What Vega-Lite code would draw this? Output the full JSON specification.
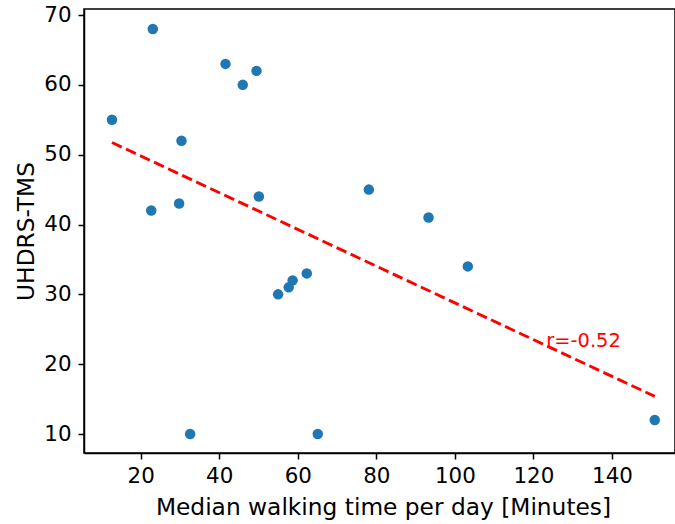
{
  "$schema": "https://vega.github.io/schema/vega-lite/v6.json",
  "autosize": "none",
  "width": 591,
  "height": 444,
  "padding": {"left": 84, "top": 9, "right": 0, "bottom": 71},
  "background": "white",
  "config": {
    "font": "DejaVu Sans",
    "view": {"stroke": "black", "strokeWidth": 1.5},
    "axis": {
      "grid": false,
      "domainColor": "black",
      "domainWidth": 1.5,
      "tickColor": "black",
      "tickWidth": 1.5,
      "tickSize": 6,
      "labelColor": "black",
      "titleColor": "black",
      "labelFont": "DejaVu Sans",
      "titleFont": "DejaVu Sans",
      "labelFontSize": 21.4,
      "titleFontSize": 23.3,
      "titleFontWeight": "normal"
    }
  },
  "datasets": {
    "points": [
      {"walk": 12.7, "tms": 55},
      {"walk": 23.1, "tms": 68},
      {"walk": 41.6, "tms": 63},
      {"walk": 49.5, "tms": 62},
      {"walk": 46.0, "tms": 60},
      {"walk": 30.4, "tms": 52},
      {"walk": 22.7, "tms": 42},
      {"walk": 29.8, "tms": 43},
      {"walk": 50.1, "tms": 44},
      {"walk": 78.1, "tms": 45},
      {"walk": 62.3, "tms": 33},
      {"walk": 58.7, "tms": 32},
      {"walk": 57.7, "tms": 31},
      {"walk": 55.0, "tms": 30},
      {"walk": 32.6, "tms": 10},
      {"walk": 65.1, "tms": 10},
      {"walk": 93.3, "tms": 41},
      {"walk": 103.3, "tms": 34},
      {"walk": 150.9, "tms": 12}
    ],
    "note": [
      {"walk": 123.3, "tms": 22.5, "label": "r=-0.52"}
    ]
  },
  "layer": [
    {
      "data": {"name": "points"},
      "mark": {"type": "point", "filled": true, "size": 110, "color": "#1f77b4", "opacity": 1, "clip": true},
      "encoding": {
        "x": {
          "field": "walk", "type": "quantitative",
          "scale": {"domain": [5.58, 156.05], "nice": false, "zero": false},
          "axis": {
            "values": [20, 40, 60, 80, 100, 120, 140],
            "title": "Median walking time per day [Minutes]",
            "labelPadding": 6,
            "titleBaseline": "alphabetic",
            "titleY": 61,
            "titleX": 299
          }
        },
        "y": {
          "field": "tms", "type": "quantitative",
          "scale": {"domain": [7.28, 70.86], "nice": false, "zero": false},
          "axis": {
            "values": [10, 20, 30, 40, 50, 60, 70],
            "title": "UHDRS-TMS",
            "labelPadding": 7,
            "titleBaseline": "alphabetic",
            "titleX": -51
          }
        }
      }
    },
    {
      "data": {"name": "points"},
      "transform": [{"regression": "tms", "on": "walk"}],
      "mark": {"type": "line", "color": "#ff0000", "strokeWidth": 2.9, "strokeDash": [10.8, 4.7], "clip": true},
      "encoding": {
        "x": {"field": "walk", "type": "quantitative"},
        "y": {"field": "tms", "type": "quantitative"}
      }
    },
    {
      "data": {"name": "note"},
      "mark": {"type": "text", "color": "#ff0000", "fontSize": 19.4, "align": "left", "baseline": "alphabetic", "font": "DejaVu Sans"},
      "encoding": {
        "x": {"field": "walk", "type": "quantitative"},
        "y": {"field": "tms", "type": "quantitative"},
        "text": {"field": "label"}
      }
    }
  ]
}
